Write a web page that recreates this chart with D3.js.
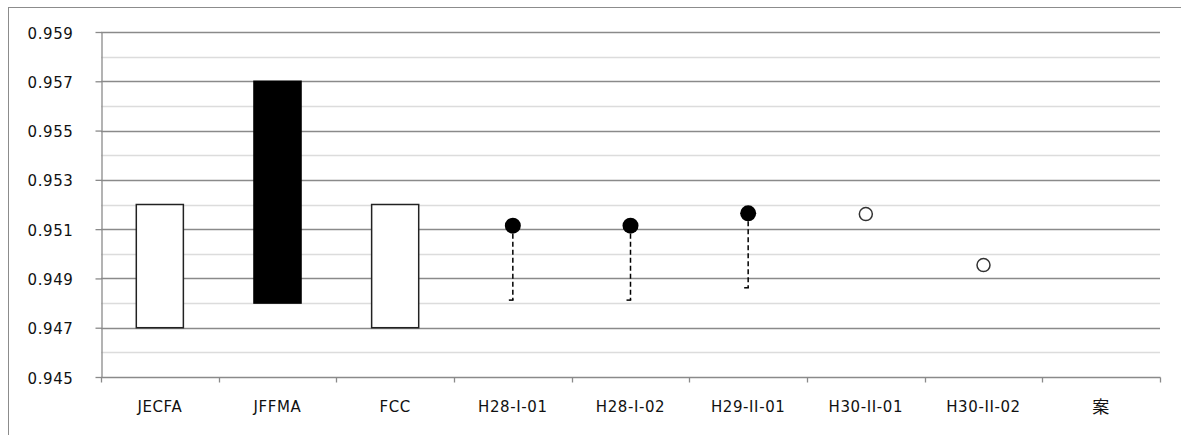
<!DOCTYPE html>
<html>
<head>
<meta charset="utf-8">
<script src="https://cdn.jsdelivr.net/npm/d3@7"></script>
<style>
  body { margin: 0; background: #fff; }
  svg { display: block; }
  .tick text { font-family: "DejaVu Sans", sans-serif; font-size: 15px; fill: #111; letter-spacing: 0.6px; }
</style>
</head>
<body>
<div id="root"></div>
<script>
const width = 1181;
const height = 435;

// data
const categories = ['JECFA','JFFMA','FCC','H28-I-01','H28-I-02','H29-II-01','H30-II-01','H30-II-02','案'];
const rangeLow  = [0.947, 0.948, 0.947, null, null, null, null, null, null];
const rangeHigh = [0.952, 0.957, 0.952, null, null, null, null, null, null];
const measured  = [null, null, null, 0.95114, 0.95114, 0.95164, null, null, null];
const measuredLow = [null, null, null, 0.94812, 0.94812, 0.94862, null, null, null];
const planned   = [null, null, null, null, null, null, 0.95161, 0.94954, null];
const yTicks = [0.945, 0.947, 0.949, 0.951, 0.953, 0.955, 0.957, 0.959];
const yMinor = [0.946, 0.948, 0.950, 0.952, 0.954, 0.956, 0.958];

const blackBox = 'JFFMA';

const margin = {left: 101, right: 21, top: 32, bottom: 58};

const svg = d3.select('#root').append('svg')
  .attr('width', width)
  .attr('height', height);

// chart frame (only top & left show inside the picture)
svg.append('rect')
  .attr('x', 8.5).attr('y', 7.5)
  .attr('width', width + 20).attr('height', height + 20)
  .attr('fill', 'none')
  .attr('stroke', '#8c8c8c')
  .attr('stroke-width', 1);

const x = d3.scaleBand()
  .domain(categories)
  .range([margin.left, width - margin.right])
  .padding(0);

const y = d3.scaleLinear()
  .domain([0.945, 0.959])
  .range([height - margin.bottom, margin.top]);

const x0 = margin.left, x1 = width - margin.right;

// minor gridlines
svg.append('g')
  .selectAll('line')
  .data(yMinor).enter()
  .append('line')
    .attr('x1', x0).attr('x2', x1)
    .attr('y1', d => Math.round(y(d)) + 0.5)
    .attr('y2', d => Math.round(y(d)) + 0.5)
    .attr('stroke', '#dcdcdc')
    .attr('stroke-width', 1.3);

// major gridlines
svg.append('g')
  .selectAll('line')
  .data(yTicks.slice(1)).enter()
  .append('line')
    .attr('x1', x0).attr('x2', x1)
    .attr('y1', d => Math.round(y(d)) + 0.5)
    .attr('y2', d => Math.round(y(d)) + 0.5)
    .attr('stroke', '#8a8a8a')
    .attr('stroke-width', 1.3);

// y axis
const yAxis = svg.append('g')
  .attr('transform', `translate(${x0 + 0.5},0)`)
  .call(d3.axisLeft(y).tickValues(yTicks).tickSize(6).tickSizeOuter(0).tickPadding(22).tickFormat(d3.format('.3f')));
yAxis.select('.domain').attr('stroke', '#8a8a8a').attr('stroke-width', 1.3);
yAxis.selectAll('.tick line').attr('stroke', '#8a8a8a').attr('stroke-width', 1.3);
yAxis.selectAll('.tick text').attr('dy', '0.4em');

// x axis
const xAxis = svg.append('g')
  .attr('transform', `translate(0,${Math.round(y(0.945)) + 0.5})`)
  .call(d3.axisBottom(x).tickSize(0).tickPadding(22));
xAxis.select('.domain').remove();
xAxis.selectAll('.tick text').attr('dy', '0.8em');
xAxis.selectAll('.tick text').filter(d => d === '案').style('font-size', '17px').style('font-family', '"Noto Sans CJK JP", sans-serif');

const base = Math.round(y(0.945)) + 0.5;
svg.append('line')
  .attr('x1', x0).attr('x2', x1 + 0.5)
  .attr('y1', base).attr('y2', base)
  .attr('stroke', '#8a8a8a').attr('stroke-width', 1.3);

svg.append('g')
  .selectAll('line')
  .data(categories.concat(['end'])).enter()
  .append('line')
    .attr('x1', (d, i) => Math.round(x0 + i * x.step()) + 0.5)
    .attr('x2', (d, i) => Math.round(x0 + i * x.step()) + 0.5)
    .attr('y1', base).attr('y2', base + 5)
    .attr('stroke', '#8a8a8a').attr('stroke-width', 1.3);

// range boxes
const boxW = x.bandwidth() * 0.4;
svg.append('g')
  .selectAll('rect')
  .data(categories.map((c, i) => ({c, lo: rangeLow[i], hi: rangeHigh[i]})).filter(d => d.lo != null))
  .enter()
  .append('rect')
    .attr('x', d => x(d.c) + x.bandwidth() / 2 - boxW / 2)
    .attr('y', d => y(d.hi))
    .attr('width', boxW)
    .attr('height', d => y(d.lo) - y(d.hi))
    .attr('fill', d => d.c === blackBox ? '#000' : '#fff')
    .attr('stroke', d => d.c === blackBox ? '#000' : '#222')
    .attr('stroke-width', 1.5);

// measured values with lower error bar
const meas = categories.map((c, i) => ({c, v: measured[i], lo: measuredLow[i]})).filter(d => d.v != null);
const cx = d => x(d.c) + x.bandwidth() / 2;

const err = svg.append('g').selectAll('g').data(meas).enter().append('g');
err.append('line')
  .attr('x1', cx).attr('x2', cx)
  .attr('y1', d => y(d.v)).attr('y2', d => y(d.lo))
  .attr('stroke', '#000').attr('stroke-width', 1.5)
  .attr('stroke-dasharray', '5,3');
err.append('line')
  .attr('x1', d => cx(d) - 4).attr('x2', d => cx(d) + 0.75)
  .attr('y1', d => y(d.lo)).attr('y2', d => y(d.lo))
  .attr('stroke', '#000').attr('stroke-width', 1.5);

svg.append('g')
  .selectAll('circle')
  .data(meas).enter()
  .append('circle')
    .attr('cx', cx)
    .attr('cy', d => y(d.v))
    .attr('r', 8)
    .attr('fill', '#000');

// planned values (open circles)
svg.append('g')
  .selectAll('circle')
  .data(categories.map((c, i) => ({c, v: planned[i]})).filter(d => d.v != null))
  .enter()
  .append('circle')
    .attr('cx', cx)
    .attr('cy', d => y(d.v))
    .attr('r', 6.5)
    .attr('fill', '#fff')
    .attr('stroke', '#333')
    .attr('stroke-width', 1.5);
</script>
</body>
</html>
